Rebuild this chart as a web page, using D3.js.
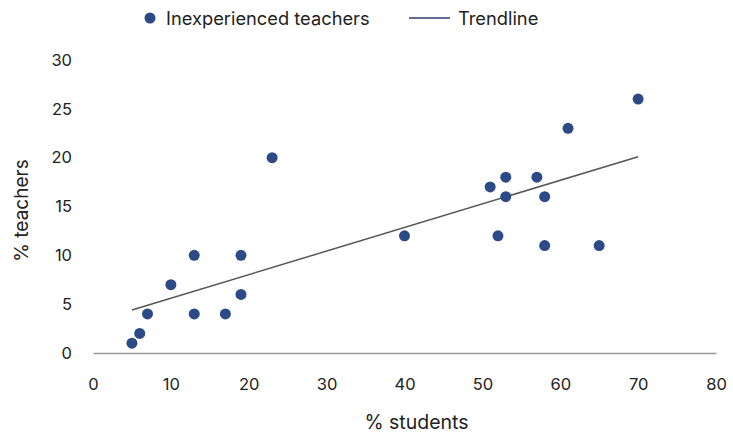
<!DOCTYPE html>
<html>
<head>
<meta charset="utf-8">
<script src="https://cdn.jsdelivr.net/npm/d3@7/dist/d3.min.js"></script>
<style>
  body { margin: 0; background: #fff; }
  text { font-family: Inter, Roboto, sans-serif; fill: #222; }
</style>
</head>
<body>
<div id="chart"></div>
<script>
// % students vs % inexperienced teachers
const studentPct = [5, 6, 7, 10, 13, 13, 17, 19, 19, 23, 40, 51, 52, 53, 53, 57, 58, 58, 61, 65, 70];
const teacherPct = [1, 2, 4, 7, 10, 4, 4, 10, 6, 20, 12, 17, 12, 18, 16, 18, 16, 11, 23, 11, 26];
const trendX = [5, 70];
const trendY = [4.4, 20.1];
const xTicks = [0, 10, 20, 30, 40, 50, 60, 70, 80];
const yTicks = [0, 5, 10, 15, 20, 25, 30];

const margin = { top: 60, right: 17, bottom: 82, left: 93 },
      width = 733 - margin.left - margin.right,
      height = 435 - margin.top - margin.bottom;

const dotColor = "#2c4a85";

const svg = d3.select("#chart")
  .append("svg")
  .attr("width", 733)
  .attr("height", 435)
  .append("g")
  .attr("transform", `translate(${margin.left},${margin.top})`);

const x = d3.scaleLinear().domain([0, 80]).range([0, width]);
const y = d3.scaleLinear().domain([0, 30]).range([height, 0]);

// x axis: zero line + labels, no ticks
const xAxis = svg.append("g")
  .attr("transform", `translate(0,${height})`)
  .call(d3.axisBottom(x).tickValues(xTicks).tickSize(0).tickPadding(25));
xAxis.select(".domain").attr("stroke", "#999").attr("stroke-width", 1.5);
xAxis.selectAll("text").style("font-size", "16.5px").attr("fill", "#222");

const yAxis = svg.append("g")
  .call(d3.axisLeft(y).tickValues(yTicks).tickSize(0).tickPadding(21));
yAxis.select(".domain").remove();
yAxis.selectAll("text").style("font-size", "16.5px").attr("fill", "#222");

svg.append("text")
  .attr("x", x(40) + 12)
  .attr("y", height + 76)
  .attr("text-anchor", "middle")
  .style("font-size", "19.5px")
  .text("% students");

svg.append("text")
  .attr("transform", "rotate(-90)")
  .attr("x", -(height / 2) - 4)
  .attr("y", -65)
  .attr("text-anchor", "middle")
  .style("font-size", "19px")
  .text("% teachers");

// trendline
svg.append("line")
  .attr("x1", x(trendX[0])).attr("y1", y(trendY[0]))
  .attr("x2", x(trendX[1])).attr("y2", y(trendY[1]))
  .attr("stroke", "#555")
  .attr("stroke-width", 1.5);

svg.selectAll("circle.pt")
  .data(studentPct.map((s, i) => ({ s, t: teacherPct[i] })))
  .enter()
  .append("circle")
  .attr("class", "pt")
  .attr("cx", d => x(d.s))
  .attr("cy", d => y(d.t))
  .attr("r", 5.5)
  .attr("fill", dotColor);

// legend
const legend = d3.select("svg").append("g");
legend.append("circle").attr("cx", 150).attr("cy", 18).attr("r", 5.5).attr("fill", dotColor);
legend.append("text").attr("x", 166).attr("y", 24.5).style("font-size", "18.3px").text("Inexperienced teachers");
legend.append("line").attr("x1", 409).attr("x2", 450).attr("y1", 18).attr("y2", 18)
  .attr("stroke", "#2c3e6b").attr("stroke-width", 1.5);
legend.append("text").attr("x", 458).attr("y", 24.5).style("font-size", "18.3px").text("Trendline");
</script>
</body>
</html>
